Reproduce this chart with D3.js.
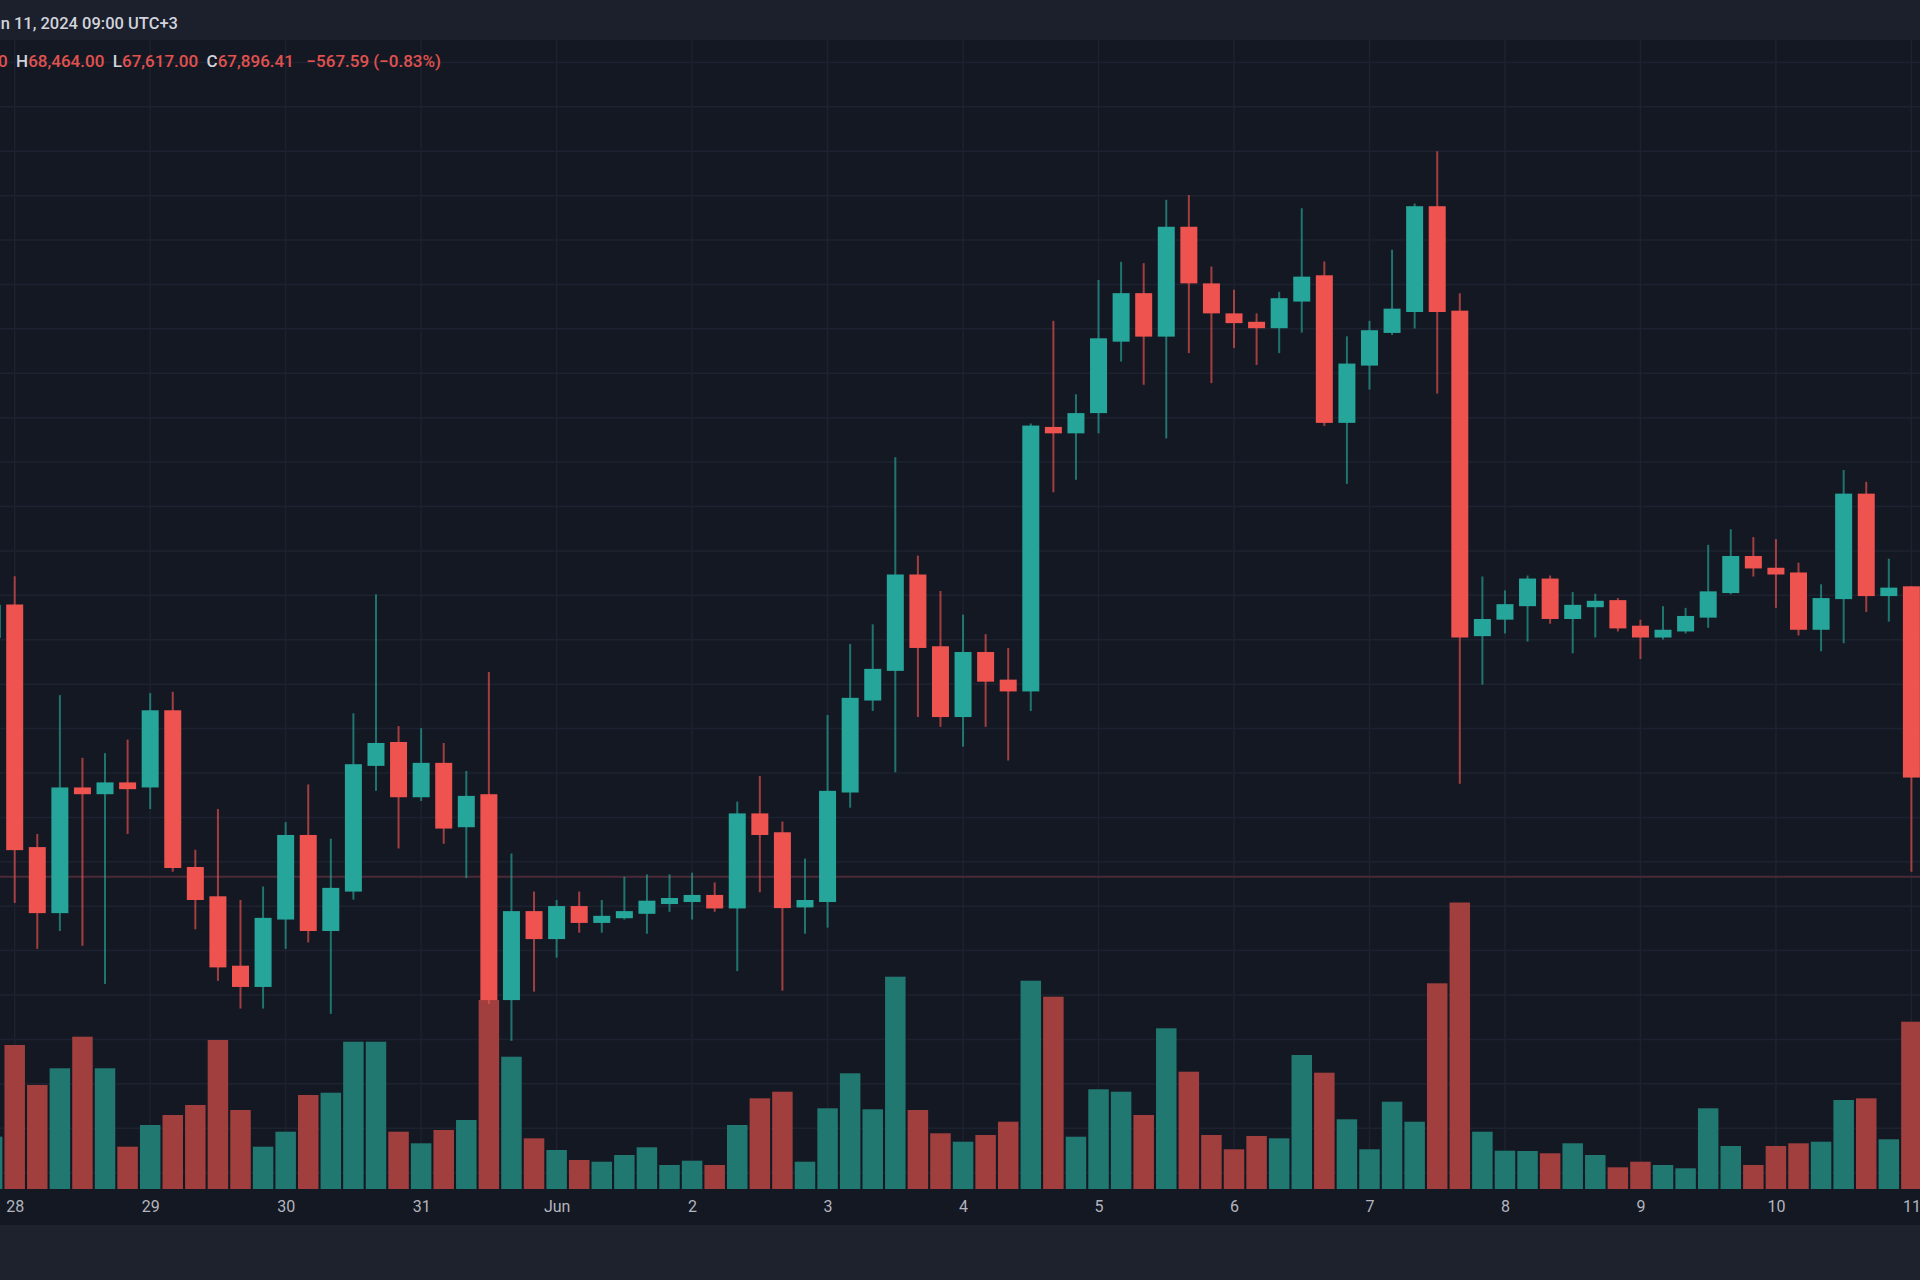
<!DOCTYPE html>
<html>
<head>
<meta charset="utf-8">
<script src="https://cdn.jsdelivr.net/npm/d3@7"></script>
<style>
html,body{margin:0;padding:0;background:#141823;}
svg{display:block;}
</style>
</head>
<body>
<svg id="chart" width="1920" height="1280"></svg>
<script>
// ---- categories: 4h candles (local time) ----
const times = [
"2024-05-27 20:00",
"2024-05-28 00:00","2024-05-28 04:00","2024-05-28 08:00","2024-05-28 12:00","2024-05-28 16:00","2024-05-28 20:00",
"2024-05-29 00:00","2024-05-29 04:00","2024-05-29 08:00","2024-05-29 12:00","2024-05-29 16:00","2024-05-29 20:00",
"2024-05-30 00:00","2024-05-30 04:00","2024-05-30 08:00","2024-05-30 12:00","2024-05-30 16:00","2024-05-30 20:00",
"2024-05-31 00:00","2024-05-31 04:00","2024-05-31 08:00","2024-05-31 12:00","2024-05-31 16:00","2024-05-31 20:00",
"2024-06-01 00:00","2024-06-01 04:00","2024-06-01 08:00","2024-06-01 12:00","2024-06-01 16:00","2024-06-01 20:00",
"2024-06-02 00:00","2024-06-02 04:00","2024-06-02 08:00","2024-06-02 12:00","2024-06-02 16:00","2024-06-02 20:00",
"2024-06-03 00:00","2024-06-03 04:00","2024-06-03 08:00","2024-06-03 12:00","2024-06-03 16:00","2024-06-03 20:00",
"2024-06-04 00:00","2024-06-04 04:00","2024-06-04 08:00","2024-06-04 12:00","2024-06-04 16:00","2024-06-04 20:00",
"2024-06-05 00:00","2024-06-05 04:00","2024-06-05 08:00","2024-06-05 12:00","2024-06-05 16:00","2024-06-05 20:00",
"2024-06-06 00:00","2024-06-06 04:00","2024-06-06 08:00","2024-06-06 12:00","2024-06-06 16:00","2024-06-06 20:00",
"2024-06-07 00:00","2024-06-07 04:00","2024-06-07 08:00","2024-06-07 12:00","2024-06-07 16:00","2024-06-07 20:00",
"2024-06-08 00:00","2024-06-08 04:00","2024-06-08 08:00","2024-06-08 12:00","2024-06-08 16:00","2024-06-08 20:00",
"2024-06-09 00:00","2024-06-09 04:00","2024-06-09 08:00","2024-06-09 12:00","2024-06-09 16:00","2024-06-09 20:00",
"2024-06-10 00:00","2024-06-10 04:00","2024-06-10 08:00","2024-06-10 12:00","2024-06-10 16:00","2024-06-10 20:00",
"2024-06-11 00:00"
];

// ---- series values (USD) ----
const open = [68311,68410,67690,67494,67867,67847,67882,67867,68096,67631,67544,67338,67275,67475,67726,67441,67558,67931,68002,67838,67940,67749,67847,67236,67500,67417,67515,67465,67479,67492,67521,67527,67548,67508,67790,67734,67511,67527,67852,68125,68213,68499,68286,68076,68269,68187,68152,68937,68918,68978,69190,69334,69205,69531,69363,69274,69249,69230,69309,69387,68949,69119,69216,69278,69592,69282,68316,68365,68405,68487,68367,68402,68423,68347,68312,68330,68371,68444,68554,68519,68505,68335,68426,68739,68435,68464];
const high = [68438,68494,67729,68141,67955,67969,68009,68147,68151,67682,67803,67533,67573,67764,67876,67715,68087,68440,68049,68043,67999,67916,68210,67671,67558,67533,67558,67533,67602,67609,67609,67614,67585,67825,67901,67766,67656,68082,68293,68351,68847,68555,68450,68380,68322,68281,68947,69252,69034,69373,69427,69423,69611,69625,69413,69344,69274,69338,69586,69428,69206,69252,69463,69600,69755,69334,68493,68452,68496,68496,68447,68442,68429,68365,68405,68400,68587,68633,68610,68604,68534,68470,68809,68774,68546,68464];
const low = [68285,67524,67388,67441,67397,67284,67729,67803,67617,67446,67293,67211,67211,67388,67407,67195,67534,67857,67686,67827,67700,67598,67224,67115,67261,67362,67436,67436,67475,67433,67498,67475,67498,67322,67556,67264,67433,67451,67807,68094,67912,68076,68047,67988,68047,67947,68094,68743,68780,68918,69131,69062,68903,69156,69067,69171,69121,69156,69217,68940,68768,69048,69210,69229,69036,67878,68172,68324,68300,68353,68265,68312,68330,68248,68306,68324,68341,68440,68493,68400,68318,68271,68295,68388,68359,67617];
const close = [68409,67681,67494,67867,67847,67882,67862,68096,67628,67533,67333,67275,67480,67726,67441,67569,67936,67999,67838,67940,67745,67842,67236,67500,67417,67515,67465,67486,67500,67531,67539,67548,67508,67790,67726,67509,67533,67857,68133,68219,68499,68281,68076,68269,68181,68152,68941,68918,68978,69200,69334,69205,69531,69363,69274,69245,69230,69319,69383,68949,69125,69224,69288,69592,69278,68312,68367,68411,68487,68367,68409,68421,68339,68312,68335,68376,68449,68554,68517,68499,68335,68429,68739,68435,68460,67896.41];
const volume = [523,1440,1040,1207,1523,1207,423,640,740,840,1490,790,423,573,940,963,1473,1473,573,457,590,690,1890,1323,507,390,290,273,340,417,240,283,240,640,907,973,273,807,1157,797,2123,790,557,473,540,673,2083,1923,523,997,973,740,1607,1173,540,397,530,507,1340,1163,697,397,873,673,2057,2865,573,383,380,357,457,340,217,273,240,207,807,430,240,430,457,473,890,907,497,1673];

// ---- tick labels ----
const dayTicks = ["2024-05-28 00:00","2024-05-29 00:00","2024-05-30 00:00","2024-05-31 00:00","2024-06-01 00:00","2024-06-02 00:00","2024-06-03 00:00","2024-06-04 00:00","2024-06-05 00:00","2024-06-06 00:00","2024-06-07 00:00","2024-06-08 00:00","2024-06-09 00:00","2024-06-10 00:00","2024-06-11 00:00"];
const dayLabels = ["28","29","30","31","Jun","2","3","4","5","6","7","8","9","10","11"];
const headerTime = "Jun 11, 2024 09:00 UTC+3";
const markedPrice = 67602;

// ---- styling ----
const UP = "#26a69a", DOWN = "#ef5350";
const UPV = "#207870", DOWNV = "#a03f3e";
const BG = "#141823", GRID = "#1d2230";

const parse = d3.timeParse("%Y-%m-%d %H:%M");
const t = times.map(parse);
const candles = t.map((d, i) => ({t: d, o: open[i], h: high[i], l: low[i], c: close[i], v: volume[i]}));

const svg = d3.select("#chart");
const W = 1920, H = 1280;
const plotTop = 40, volBase = 1189;

const x = d3.scaleTime().domain([t[0], t[t.length - 1]]).range([-7.88, 1911.4]);
const y = d3.scaleLinear().domain([67000, 70200]).range([1079.6, 1.35]);
const yv = d3.scaleLinear().domain([0, 3000]).range([volBase, volBase - 300]);

// backgrounds
svg.append("rect").attr("width", W).attr("height", H).attr("fill", BG);
svg.append("rect").attr("width", W).attr("height", plotTop).attr("fill", "#1c202c");
svg.append("rect").attr("y", 1225).attr("width", W).attr("height", H - 1225).attr("fill", "#1e222d");

// grid
const gridPrices = d3.range(70018.8, 66700, -131.8);
svg.append("g").selectAll("line").data(gridPrices).join("line")
  .attr("x1", 0).attr("x2", W)
  .attr("y1", d => y(d)).attr("y2", d => y(d))
  .attr("stroke", GRID).attr("stroke-width", 1.5);
const tickDates = dayTicks.map(parse);
svg.append("g").selectAll("line").data(tickDates).join("line")
  .attr("x1", d => x(d)).attr("x2", d => x(d))
  .attr("y1", plotTop).attr("y2", volBase)
  .attr("stroke", GRID).attr("stroke-width", 1.5);

// marked horizontal price line
svg.append("line")
  .attr("x1", 0).attr("x2", W)
  .attr("y1", y(markedPrice)).attr("y2", y(markedPrice))
  .attr("stroke", "#4a2a36").attr("stroke-width", 2);

// volume
const vw = 20.5;
svg.append("g").selectAll("rect").data(candles).join("rect")
  .attr("x", d => x(d.t) - vw / 2)
  .attr("width", vw)
  .attr("y", d => yv(d.v))
  .attr("height", d => volBase - yv(d.v))
  .attr("fill", d => d.c >= d.o ? UPV : DOWNV);

// wicks
svg.append("g").selectAll("line").data(candles).join("line")
  .attr("x1", d => x(d.t)).attr("x2", d => x(d.t))
  .attr("y1", d => y(d.h)).attr("y2", d => y(d.l))
  .attr("stroke", d => d.c >= d.o ? UP : DOWN)
  .attr("stroke-opacity", 0.65)
  .attr("stroke-width", 2);

// bodies
const bw = 17;
svg.append("g").selectAll("rect").data(candles).join("rect")
  .attr("x", d => x(d.t) - bw / 2)
  .attr("width", bw)
  .attr("y", d => y(Math.max(d.o, d.c)))
  .attr("height", d => Math.max(2, Math.abs(y(d.o) - y(d.c))))
  .attr("fill", d => d.c >= d.o ? UP : DOWN);

// time axis
const axis = d3.axisBottom(x)
  .tickValues(tickDates)
  .tickFormat((d, i) => dayLabels[i])
  .tickSize(0).tickPadding(12);
const ag = svg.append("g").attr("transform", `translate(0,${volBase})`).call(axis);
ag.select(".domain").remove();
ag.selectAll("text")
  .attr("fill", "#b2b5be")
  .style("font-family", "Roboto, 'Noto Sans', sans-serif")
  .style("font-size", "16px");

// header (left part scrolled off the chart edge, as in the screenshot)
svg.append("text")
  .attr("x", 178).attr("y", 29)
  .attr("text-anchor", "end")
  .attr("fill", "#d1d4dc")
  .style("font-family", "Roboto, 'Noto Sans', sans-serif")
  .style("font-size", "16.5px").style("font-weight", 500)
  .text(headerTime);

const last = candles[candles.length - 1];
const f = d3.format(",.2f");
const chg = last.c - last.o;
const pct = chg / last.o * 100;
const parts = [
  ["O", f(last.o)], ["H", f(last.h)], ["L", f(last.l)], ["C", f(last.c)],
  ["", f(chg) + " (" + d3.format(".2f")(pct) + "%)"]
];
const ht = svg.append("text")
  .attr("x", 441).attr("y", 67)
  .attr("text-anchor", "end")
  .style("font-family", "Roboto, 'Noto Sans', sans-serif")
  .style("font-size", "17px").style("font-weight", 500);
parts.forEach((p, i) => {
  if (p[0]) ht.append("tspan").attr("fill", "#d1d4dc").text((i ? "\u00a0\u00a0" : "") + p[0]);
  ht.append("tspan").attr("fill", "#e0524f").text((p[0] ? "" : "\u00a0\u00a0\u00a0") + p[1]);
});
</script>
</body>
</html>
